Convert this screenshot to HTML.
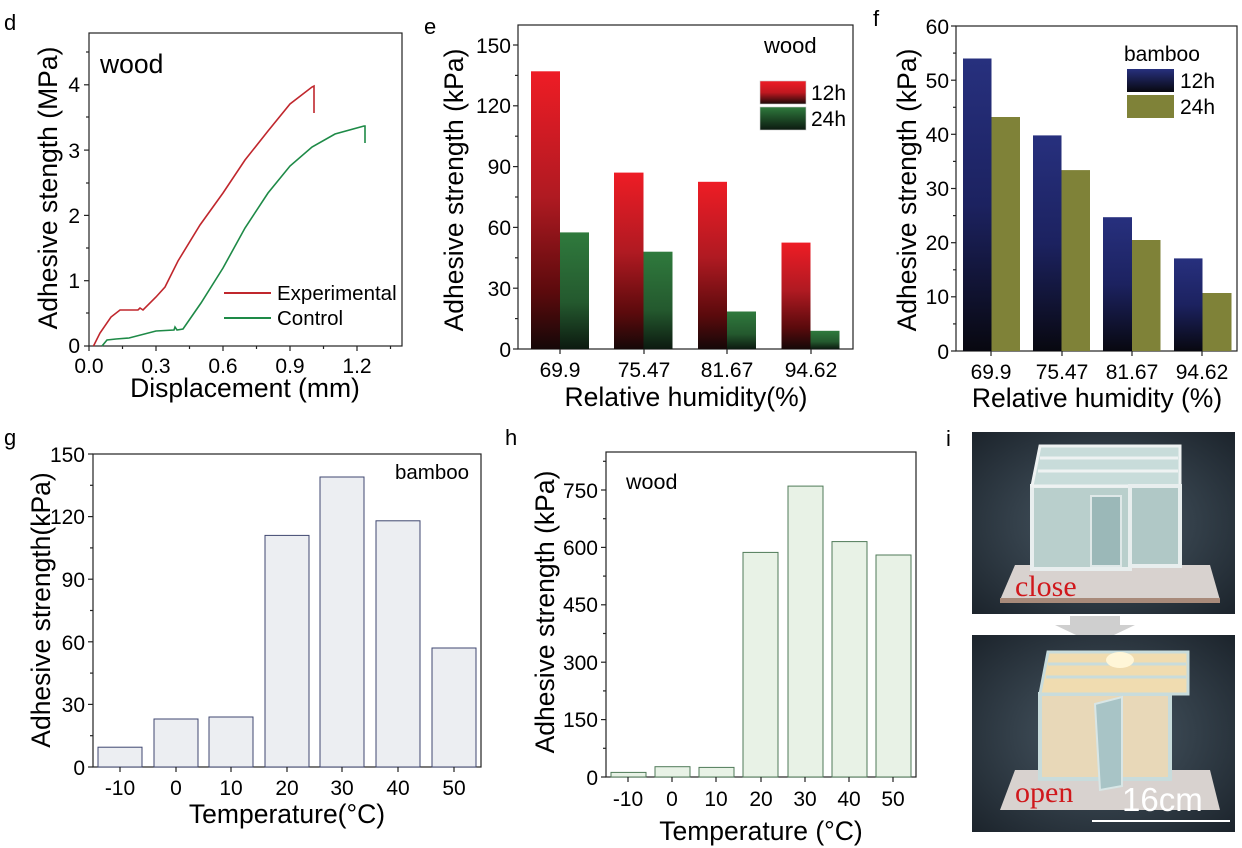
<!DOCTYPE html>
<html><head><meta charset="utf-8"><style>
html,body{margin:0;padding:0;background:#fff;}
svg{display:block;font-family:"Liberation Sans",Arial,sans-serif;}
</style></head><body>
<svg width="1242" height="848" viewBox="0 0 1242 848" xmlns="http://www.w3.org/2000/svg">
<defs>
<linearGradient id="gr" x1="0" y1="0" x2="0" y2="1"><stop offset="0" stop-color="#ee1c25"/><stop offset="0.45" stop-color="#b01a22"/><stop offset="0.8" stop-color="#5a0a0c"/><stop offset="1" stop-color="#150808"/></linearGradient>
<linearGradient id="gg" x1="0" y1="0" x2="0" y2="1"><stop offset="0" stop-color="#2f7a3d"/><stop offset="0.6" stop-color="#24592e"/><stop offset="1" stop-color="#0c1a10"/></linearGradient>
<linearGradient id="gb" x1="0" y1="0" x2="0" y2="1"><stop offset="0" stop-color="#27307e"/><stop offset="0.5" stop-color="#1c2260"/><stop offset="1" stop-color="#080810"/></linearGradient>
<linearGradient id="glr" x1="0" y1="0" x2="0" y2="1"><stop offset="0" stop-color="#ee1c25"/><stop offset="0.5" stop-color="#c01820"/><stop offset="1" stop-color="#1a0808"/></linearGradient>
<linearGradient id="glg" x1="0" y1="0" x2="0" y2="1"><stop offset="0" stop-color="#2f7a3d"/><stop offset="1" stop-color="#0c1a10"/></linearGradient>
<linearGradient id="glb" x1="0" y1="0" x2="0" y2="1"><stop offset="0" stop-color="#27307e"/><stop offset="1" stop-color="#080810"/></linearGradient>
<radialGradient id="bg1" cx="0.5" cy="0.5" r="0.7"><stop offset="0" stop-color="#4a5a66"/><stop offset="1" stop-color="#1c242c"/></radialGradient>
</defs>

<!-- Panel d -->
<text x="4" y="30" font-size="22">d</text>
<rect x="89" y="33" width="313" height="313" fill="none" stroke="#222" stroke-width="1.2"/>
<g stroke="#222" stroke-width="1.2">
<line x1="89" y1="346" x2="84" y2="346"/><line x1="89" y1="280.7" x2="84" y2="280.7"/><line x1="89" y1="215.4" x2="84" y2="215.4"/><line x1="89" y1="150.1" x2="84" y2="150.1"/><line x1="89" y1="84.8" x2="84" y2="84.8"/>
<line x1="89" y1="313" x2="86" y2="313"/><line x1="89" y1="248" x2="86" y2="248"/><line x1="89" y1="183" x2="86" y2="183"/><line x1="89" y1="117" x2="86" y2="117"/><line x1="89" y1="52" x2="86" y2="52"/>
<line x1="89" y1="346" x2="89" y2="351"/><line x1="156" y1="346" x2="156" y2="351"/><line x1="223" y1="346" x2="223" y2="351"/><line x1="290" y1="346" x2="290" y2="351"/><line x1="357" y1="346" x2="357" y2="351"/>
<line x1="122.5" y1="346" x2="122.5" y2="349"/><line x1="189.5" y1="346" x2="189.5" y2="349"/><line x1="256.5" y1="346" x2="256.5" y2="349"/><line x1="323.5" y1="346" x2="323.5" y2="349"/><line x1="390.5" y1="346" x2="390.5" y2="349"/>
</g>
<g font-size="21" text-anchor="end"><text x="80" y="353">0</text><text x="80" y="288">1</text><text x="80" y="223">2</text><text x="80" y="158">3</text><text x="80" y="92">4</text></g>
<g font-size="21" text-anchor="middle"><text x="89" y="373">0.0</text><text x="156" y="373">0.3</text><text x="223" y="373">0.6</text><text x="290" y="373">0.9</text><text x="357" y="373">1.2</text></g>
<text x="245" y="397" font-size="26.5" text-anchor="middle">Displacement (mm)</text>
<text transform="translate(57,188) rotate(-90)" font-size="26.5" text-anchor="middle">Adhesive stength (MPa)</text>
<text x="100" y="73" font-size="26.5">wood</text>
<polyline fill="none" stroke="#c0272d" stroke-width="1.6" points="93.5,346 100,333 111,317 120,310 138,310 140,308 143,310 156,297 165,287 178,261 200,225 223,193 245,160 268,131 290,104 312,87 314,86 314,113"/>
<polyline fill="none" stroke="#1e8a47" stroke-width="1.6" points="102,346 107,340 116,339 129,338 156,331 174,330 175,327 177,330 183,329 201,303 223,268 245,228 268,193 290,166 312,147 335,134 364,126 365,126 365,143"/>
<line x1="224" y1="293" x2="271" y2="293" stroke="#c0272d" stroke-width="2"/>
<text x="277" y="300" font-size="20.5">Experimental</text>
<line x1="224" y1="318" x2="271" y2="318" stroke="#1e8a47" stroke-width="2"/>
<text x="277" y="325" font-size="20.5">Control</text>

<!-- Panel e -->
<text x="424" y="34" font-size="22">e</text>
<rect x="518" y="25" width="335" height="324" fill="none" stroke="#222" stroke-width="1.2"/>
<g>
<rect x="531" y="71.3" width="29" height="277.7" fill="url(#gr)"/><rect x="560" y="232.4" width="29" height="116.6" fill="url(#gg)"/>
<rect x="614" y="172.6" width="29.5" height="176.4" fill="url(#gr)"/><rect x="643.5" y="251.7" width="29" height="97.3" fill="url(#gg)"/>
<rect x="698" y="181.8" width="29" height="167.2" fill="url(#gr)"/><rect x="727" y="311.5" width="29" height="37.5" fill="url(#gg)"/>
<rect x="781.5" y="242.6" width="29" height="106.4" fill="url(#gr)"/><rect x="810.5" y="330.8" width="29" height="18.2" fill="url(#gg)"/>
</g>
<g stroke="#222" stroke-width="1.2">
<line x1="518" y1="349" x2="513" y2="349"/><line x1="518" y1="288.2" x2="513" y2="288.2"/><line x1="518" y1="227.4" x2="513" y2="227.4"/><line x1="518" y1="166.6" x2="513" y2="166.6"/><line x1="518" y1="105.8" x2="513" y2="105.8"/><line x1="518" y1="45" x2="513" y2="45"/>
<line x1="518" y1="318.6" x2="515" y2="318.6"/><line x1="518" y1="257.8" x2="515" y2="257.8"/><line x1="518" y1="197" x2="515" y2="197"/><line x1="518" y1="136.2" x2="515" y2="136.2"/><line x1="518" y1="75.4" x2="515" y2="75.4"/>
<line x1="560" y1="349" x2="560" y2="354"/><line x1="644" y1="349" x2="644" y2="354"/><line x1="727" y1="349" x2="727" y2="354"/><line x1="811" y1="349" x2="811" y2="354"/>
</g>
<g font-size="21" text-anchor="end"><text x="511" y="357">0</text><text x="511" y="296">30</text><text x="511" y="235">60</text><text x="511" y="174">90</text><text x="511" y="113">120</text><text x="511" y="53">150</text></g>
<g font-size="21" text-anchor="middle"><text x="560" y="377">69.9</text><text x="644" y="377">75.47</text><text x="727" y="377">81.67</text><text x="811" y="377">94.62</text></g>
<text x="686" y="406" font-size="26.5" text-anchor="middle">Relative humidity(%)</text>
<text transform="translate(463,190) rotate(-90)" font-size="26.5" text-anchor="middle">Adhesive strength (kPa)</text>
<text x="764" y="53" font-size="22">wood</text>
<rect x="760" y="81" width="46" height="23" fill="url(#glr)" stroke="#ccc" stroke-width="0.6"/>
<rect x="760" y="107" width="46" height="23" fill="url(#glg)" stroke="#ccc" stroke-width="0.6"/>
<text x="811" y="100" font-size="21">12h</text><text x="811" y="126" font-size="21">24h</text>

<!-- Panel f -->
<text x="873" y="26" font-size="22">f</text>
<rect x="956" y="26" width="281" height="325" fill="none" stroke="#222" stroke-width="1.2"/>
<g>
<rect x="963" y="58.5" width="28.5" height="292.5" fill="url(#gb)"/><rect x="991.5" y="117" width="28.5" height="234" fill="#7f8238"/>
<rect x="1033" y="135.4" width="28.5" height="215.6" fill="url(#gb)"/><rect x="1061.5" y="170.1" width="28.5" height="180.9" fill="#7f8238"/>
<rect x="1103" y="217.2" width="29" height="133.8" fill="url(#gb)"/><rect x="1132" y="240" width="28.5" height="111" fill="#7f8238"/>
<rect x="1174" y="258.4" width="28.5" height="92.6" fill="url(#gb)"/><rect x="1202.5" y="293" width="29" height="58" fill="#7f8238"/>
</g>
<g stroke="#222" stroke-width="1.2">
<line x1="956" y1="351" x2="951" y2="351"/><line x1="956" y1="296.8" x2="951" y2="296.8"/><line x1="956" y1="242.7" x2="951" y2="242.7"/><line x1="956" y1="188.5" x2="951" y2="188.5"/><line x1="956" y1="134.3" x2="951" y2="134.3"/><line x1="956" y1="80.2" x2="951" y2="80.2"/><line x1="956" y1="26" x2="951" y2="26"/>
<line x1="956" y1="323.9" x2="953" y2="323.9"/><line x1="956" y1="269.8" x2="953" y2="269.8"/><line x1="956" y1="215.6" x2="953" y2="215.6"/><line x1="956" y1="161.4" x2="953" y2="161.4"/><line x1="956" y1="107.3" x2="953" y2="107.3"/><line x1="956" y1="53.1" x2="953" y2="53.1"/>
<line x1="991" y1="351" x2="991" y2="356"/><line x1="1062" y1="351" x2="1062" y2="356"/><line x1="1132" y1="351" x2="1132" y2="356"/><line x1="1202" y1="351" x2="1202" y2="356"/>
</g>
<g font-size="21" text-anchor="end"><text x="949" y="359">0</text><text x="949" y="304">10</text><text x="949" y="250">20</text><text x="949" y="196">30</text><text x="949" y="142">40</text><text x="949" y="88">50</text><text x="949" y="34">60</text></g>
<g font-size="21" text-anchor="middle"><text x="991" y="379">69.9</text><text x="1062" y="379">75.47</text><text x="1132" y="379">81.67</text><text x="1202" y="379">94.62</text></g>
<text x="1097" y="407" font-size="26.5" text-anchor="middle">Relative humidity (%)</text>
<text transform="translate(916,190) rotate(-90)" font-size="26.5" text-anchor="middle">Adhesive strength (kPa)</text>
<text x="1124" y="61" font-size="21">bamboo</text>
<rect x="1127" y="69" width="47" height="23" fill="url(#glb)"/>
<rect x="1127" y="95" width="47" height="23" fill="#7f8238"/>
<text x="1180" y="88" font-size="21">12h</text><text x="1180" y="114" font-size="21">24h</text>

<!-- Panel g -->
<text x="4" y="445" font-size="22">g</text>
<rect x="93" y="454" width="388" height="313" fill="none" stroke="#222" stroke-width="1.2"/>
<g fill="#eceef2" stroke="#3f4770" stroke-width="1">
<rect x="98" y="747.2" width="44" height="19.8"/>
<rect x="154" y="719" width="44" height="48"/>
<rect x="209" y="717" width="44" height="50"/>
<rect x="265" y="535.4" width="44" height="231.6"/>
<rect x="320" y="477" width="44" height="290"/>
<rect x="376" y="520.8" width="44" height="246.2"/>
<rect x="432" y="648" width="44" height="119"/>
</g>
<g stroke="#222" stroke-width="1.2">
<line x1="93" y1="767" x2="88" y2="767"/><line x1="93" y1="704.4" x2="88" y2="704.4"/><line x1="93" y1="641.8" x2="88" y2="641.8"/><line x1="93" y1="579.2" x2="88" y2="579.2"/><line x1="93" y1="516.6" x2="88" y2="516.6"/><line x1="93" y1="454" x2="88" y2="454"/>
<line x1="93" y1="735.7" x2="90" y2="735.7"/><line x1="93" y1="673.1" x2="90" y2="673.1"/><line x1="93" y1="610.5" x2="90" y2="610.5"/><line x1="93" y1="547.9" x2="90" y2="547.9"/><line x1="93" y1="485.3" x2="90" y2="485.3"/>
<line x1="120" y1="767" x2="120" y2="772"/><line x1="176" y1="767" x2="176" y2="772"/><line x1="231" y1="767" x2="231" y2="772"/><line x1="287" y1="767" x2="287" y2="772"/><line x1="342" y1="767" x2="342" y2="772"/><line x1="398" y1="767" x2="398" y2="772"/><line x1="454" y1="767" x2="454" y2="772"/>
</g>
<g font-size="21" text-anchor="end"><text x="85" y="775">0</text><text x="85" y="712">30</text><text x="85" y="650">60</text><text x="85" y="587">90</text><text x="85" y="524">120</text><text x="85" y="462">150</text></g>
<g font-size="21" text-anchor="middle"><text x="120" y="795">-10</text><text x="176" y="795">0</text><text x="231" y="795">10</text><text x="287" y="795">20</text><text x="342" y="795">30</text><text x="398" y="795">40</text><text x="454" y="795">50</text></g>
<text x="287" y="823" font-size="26.5" text-anchor="middle">Temperature(°C)</text>
<text transform="translate(50,610) rotate(-90)" font-size="26.5" text-anchor="middle">Adhesive strength(kPa)</text>
<text x="395" y="479" font-size="20.5">bamboo</text>

<!-- Panel h -->
<text x="505" y="445" font-size="22">h</text>
<rect x="606" y="452" width="310" height="325" fill="none" stroke="#222" stroke-width="1.2"/>
<g fill="#e8f2e6" stroke="#4f7a58" stroke-width="1">
<rect x="611" y="772.4" width="35" height="4.6"/>
<rect x="655" y="766.7" width="35" height="10.3"/>
<rect x="699" y="767.4" width="35" height="9.6"/>
<rect x="743" y="552.4" width="35" height="224.6"/>
<rect x="788" y="486.1" width="35" height="290.9"/>
<rect x="832" y="541.6" width="35" height="235.4"/>
<rect x="876" y="555" width="35" height="222"/>
</g>
<g stroke="#222" stroke-width="1.2">
<line x1="606" y1="777" x2="601" y2="777"/><line x1="606" y1="719.6" x2="601" y2="719.6"/><line x1="606" y1="662.2" x2="601" y2="662.2"/><line x1="606" y1="604.8" x2="601" y2="604.8"/><line x1="606" y1="547.4" x2="601" y2="547.4"/><line x1="606" y1="490" x2="601" y2="490"/>
<line x1="606" y1="748.3" x2="603" y2="748.3"/><line x1="606" y1="690.9" x2="603" y2="690.9"/><line x1="606" y1="633.5" x2="603" y2="633.5"/><line x1="606" y1="576.1" x2="603" y2="576.1"/><line x1="606" y1="518.7" x2="603" y2="518.7"/><line x1="606" y1="461.3" x2="603" y2="461.3"/>
<line x1="628" y1="777" x2="628" y2="782"/><line x1="672" y1="777" x2="672" y2="782"/><line x1="716" y1="777" x2="716" y2="782"/><line x1="761" y1="777" x2="761" y2="782"/><line x1="805" y1="777" x2="805" y2="782"/><line x1="849" y1="777" x2="849" y2="782"/><line x1="893" y1="777" x2="893" y2="782"/>
</g>
<g font-size="21" text-anchor="end"><text x="598" y="785">0</text><text x="598" y="727">150</text><text x="598" y="670">300</text><text x="598" y="612">450</text><text x="598" y="555">600</text><text x="598" y="498">750</text></g>
<g font-size="21" text-anchor="middle"><text x="628" y="806">-10</text><text x="672" y="806">0</text><text x="716" y="806">10</text><text x="761" y="806">20</text><text x="805" y="806">30</text><text x="849" y="806">40</text><text x="893" y="806">50</text></g>
<text x="761" y="840" font-size="26.5" text-anchor="middle">Temperature (°C)</text>
<text transform="translate(554,612) rotate(-90)" font-size="26.5" text-anchor="middle">Adhesive strength (kPa)</text>
<text x="626" y="489" font-size="21.5">wood</text>

<!-- Panel i -->
<text x="946" y="446" font-size="22">i</text>
<rect x="972" y="432" width="263" height="182" fill="url(#bg1)"/>
<polygon points="1000,600 1220,600 1210,565 1015,565" fill="#d8d2cf"/>
<rect x="1000" y="598" width="220" height="5" fill="#a88a7a"/>
<rect x="1032" y="486" width="98" height="83" fill="#b9cfcc" stroke="#e8eeee" stroke-width="4"/>
<polygon points="1040,446 1180,446 1180,486 1032,486" fill="#c8dcda" stroke="#eef2f2" stroke-width="3"/>
<line x1="1040" y1="458" x2="1178" y2="458" stroke="#eef2f2" stroke-width="3"/>
<line x1="1038" y1="471" x2="1178" y2="471" stroke="#eef2f2" stroke-width="3"/>
<rect x="1130" y="486" width="50" height="80" fill="#b0c8c6" stroke="#e8eeee" stroke-width="4"/>
<rect x="1091" y="496" width="30" height="70" fill="#9bb8b8" stroke="#dfe8e8" stroke-width="2"/>
<text x="1015" y="596" font-size="30" fill="#d0181c" font-family="Liberation Serif,serif">close</text>
<polygon points="1070,616 1120,616 1120,625 1135,625 1095,644 1055,625 1070,625" fill="#cfcfcf"/>
<rect x="972" y="635" width="263" height="197" fill="url(#bg1)"/>
<polygon points="1000,810 1220,810 1210,770 1015,770" fill="#d8d2cf"/>
<rect x="1040" y="694" width="130" height="85" fill="#e8d8b8" stroke="#c8dcdc" stroke-width="4"/>
<polygon points="1048,652 1188,652 1188,694 1040,694" fill="#f0dcb0" stroke="#c8dcdc" stroke-width="3"/>
<line x1="1048" y1="664" x2="1186" y2="664" stroke="#c8dcdc" stroke-width="3"/>
<line x1="1046" y1="677" x2="1186" y2="677" stroke="#c8dcdc" stroke-width="3"/>
<ellipse cx="1120" cy="660" rx="14" ry="8" fill="#fff6d8"/>
<polygon points="1095,704 1122,697 1122,786 1100,790" fill="#a8c4c6" stroke="#d8e6e6" stroke-width="2"/>
<text x="1015" y="802" font-size="30" fill="#d0181c" font-family="Liberation Serif,serif">open</text>
<text x="1122" y="811" font-size="33" fill="#ffffff">16cm</text>
<line x1="1092" y1="821" x2="1230" y2="821" stroke="#ffffff" stroke-width="2"/>
</svg>
</body></html>
